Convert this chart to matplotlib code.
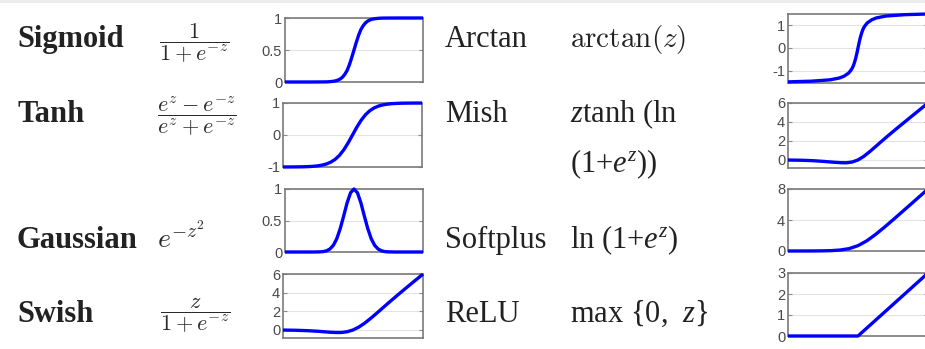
import matplotlib
matplotlib.use('Agg')
import matplotlib.pyplot as plt
from matplotlib.patches import Rectangle

plt.rcParams['font.family'] = ['Liberation Serif', 'DejaVu Serif']
plt.rcParams['mathtext.fontset'] = 'custom'
plt.rcParams['mathtext.rm'] = 'Liberation Serif'
plt.rcParams['mathtext.it'] = 'Liberation Serif:italic'

W, H = 925, 349

sig_x = [-15, -10, -7, -6, -5.5, -5, -4.5, -4, -3.5, -3, -2.5, -2, -1.5, -1, -0.5, 0,
         0.5, 1, 1.5, 2, 2.5, 3, 3.5, 4, 4.5, 5, 5.5, 6, 7, 10, 15]
sig_y = [0, 0, 0.001, 0.002, 0.004, 0.007, 0.011, 0.018, 0.029, 0.047, 0.076, 0.12, 0.18, 0.27, 0.38, 0.5,
         0.62, 0.73, 0.82, 0.88, 0.924, 0.953, 0.971, 0.982, 0.989, 0.993, 0.996, 0.998, 0.999, 1, 1]

tanh_x = [-4, -3.5, -3, -2.75, -2.5, -2.25, -2, -1.75, -1.5, -1.25, -1, -0.75, -0.5, -0.25, 0,
          0.25, 0.5, 0.75, 1, 1.25, 1.5, 1.75, 2, 2.25, 2.5, 2.75, 3, 3.5, 4]
tanh_y = [-0.999, -0.998, -0.995, -0.992, -0.987, -0.978, -0.964, -0.941, -0.905, -0.848, -0.762, -0.635, -0.462, -0.245, 0,
          0.245, 0.462, 0.635, 0.762, 0.848, 0.905, 0.941, 0.964, 0.978, 0.987, 0.992, 0.995, 0.998, 0.999]

gau_x = [-5, -3, -2.5, -2.25, -2, -1.75, -1.5, -1.25, -1, -0.75, -0.5, -0.25, 0,
         0.25, 0.5, 0.75, 1, 1.25, 1.5, 1.75, 2, 2.25, 2.5, 3, 5]
gau_y = [0, 0, 0.002, 0.006, 0.018, 0.047, 0.105, 0.21, 0.37, 0.57, 0.78, 0.94, 1,
         0.94, 0.78, 0.57, 0.37, 0.21, 0.105, 0.047, 0.018, 0.006, 0.002, 0, 0]

swish_x = [-6, -5, -4, -3, -2.5, -2, -1.5, -1, -0.5, 0, 0.5, 1, 1.5, 2, 2.5, 3, 4, 5, 6]
swish_y = [-0.01, -0.03, -0.07, -0.14, -0.19, -0.24, -0.27, -0.27, -0.19, 0, 0.31, 0.73, 1.23, 1.76, 2.31, 2.86, 3.93, 4.97, 5.99]

atan_x = [-15, -10, -6, -4, -3, -2, -1.5, -1.25, -1, -0.75, -0.5, -0.25, 0,
          0.25, 0.5, 0.75, 1, 1.25, 1.5, 2, 3, 4, 6, 10, 15]
atan_y = [-1.5, -1.47, -1.41, -1.33, -1.25, -1.11, -0.98, -0.9, -0.79, -0.64, -0.46, -0.245, 0,
          0.245, 0.46, 0.64, 0.79, 0.9, 0.98, 1.11, 1.25, 1.33, 1.41, 1.47, 1.5]

mish_x = [-6, -5, -4, -3, -2.5, -2, -1.5, -1, -0.5, 0, 0.5, 1, 1.5, 2, 2.5, 3, 4, 5, 6]
mish_y = [-0.01, -0.03, -0.07, -0.15, -0.2, -0.25, -0.29, -0.3, -0.22, 0, 0.38, 0.87, 1.4, 1.94, 2.47, 2.99, 4.0, 5.0, 6.0]

soft_x = [-8, -6, -5, -4, -3, -2, -1, 0, 1, 2, 3, 4, 5, 6, 8]
soft_y = [0, 0.002, 0.007, 0.02, 0.05, 0.13, 0.31, 0.69, 1.31, 2.13, 3.05, 4.02, 5.01, 6.0, 8.0]

relu_x = [-3, 0, 3]
relu_y = [0, 0, 3]

## names, formulas, y ticks
left_names = ['Sigmoid', 'Tanh', 'Gaussian', 'Swish']
right_names = ['Arctan', 'Mish', 'Softplus', 'ReLU']

sig_ticks = [0, 0.5, 1]
tanh_ticks = [-1, 0, 1]
gau_ticks = [0, 0.5, 1]
swish_ticks = [0, 2, 4, 6]
atan_ticks = [-1, 0, 1]
mish_ticks = [0, 2, 4, 6]
soft_ticks = [0, 4, 8]
relu_ticks = [0, 1, 2, 3]

fig = plt.figure(figsize=(W / 100, H / 100), dpi=100)

# thin grey band on top
fig.add_artist(Rectangle((0, 1 - 3 / H), 1, 3 / H, transform=fig.transFigure,
                         color='#ebebeb', lw=0))


def box(l, t, r, b):
    return [l / W, 1 - b / H, (r - l) / W, (b - t) / H]


def small_plot(rect, x, y, ylim, ticks):
    ax = fig.add_axes(box(*rect))
    ax.plot(x, y, color='#0000ff', lw=2.4, clip_on=False, zorder=5,
            solid_capstyle='butt', solid_joinstyle='round')
    ax.set_xlim(x[0], x[-1])
    ax.set_ylim(*ylim)
    ax.set_xticks([])
    ax.set_yticks(ticks)
    ax.set_yticklabels([('%g' % t) for t in ticks], family='Liberation Sans')
    ax.tick_params(axis='y', direction='in', length=3, width=0.8, color='#8a8a8a',
                   labelsize=10.5, labelcolor='#4a4a4a', pad=2, right=True)
    ax.grid(axis='y', color='#e3e3e3', lw=0.8)
    for s in ax.spines.values():
        s.set_color('#7a7a7a')
        s.set_linewidth(1.2)
    return ax


small_plot((285, 18, 423, 82), sig_x, sig_y, (0, 1), sig_ticks)
small_plot((283, 103, 422, 167), tanh_x, tanh_y, (-1, 1), tanh_ticks)
small_plot((285, 189, 423, 252), gau_x, gau_y, (0, 1), gau_ticks)
small_plot((283, 274, 423, 338), swish_x, swish_y, (-0.86, 6), swish_ticks)
small_plot((788, 14, 928, 83), atan_x, atan_y, (-1.55, 1.5), atan_ticks)
small_plot((788, 103, 928, 168), mish_x, mish_y, (-0.85, 6), mish_ticks)
small_plot((788, 189, 928, 251), soft_x, soft_y, (0, 8), soft_ticks)
small_plot((788, 273, 928, 336), relu_x, relu_y, (0, 3), relu_ticks)


def put(x, y, s, **kw):
    fig.text(x / W, 1 - y / H, s, **kw)


baselines = [47, 122, 248, 322]
for name, yb in zip(left_names, baselines):
    put(17, yb, name, fontsize=22, fontweight='bold', color='#222222', va='baseline')
for name, yb in zip(right_names, baselines):
    put(445, yb, name, fontsize=22, color='#222222', va='baseline')

# left formulas (Computer Modern)
cm = dict(math_fontfamily='cm', color='#2a2a2a', ha='center', va='center')
put(194, 43, r'$\dfrac{1}{1+e^{-z}}$', fontsize=16, **cm)
put(197, 116, r'$\dfrac{e^z-e^{-z}}{e^z+e^{-z}}$', fontsize=16, **cm)
put(157, 248, r'$e^{-z^2}$', fontsize=20, math_fontfamily='cm', color='#2a2a2a', va='baseline')
put(195, 316, r'$\dfrac{z}{1+e^{-z}}$', fontsize=16, **cm)

# right formulas
put(570, 47, r'$\arctan(z)$', fontsize=21, math_fontfamily='cm', color='#222222', va='baseline')
rf = dict(fontsize=22, color='#222222', va='baseline')
put(570, 122, r'$z$tanh (ln', **rf)
put(570, 172, r'(1+$e^z$))', **rf)
put(570, 248, r'ln (1+$e^z$)', **rf)
put(570, 322, r'max {0,  $z$}', **rf)

fig.savefig('out.png', dpi=100)
